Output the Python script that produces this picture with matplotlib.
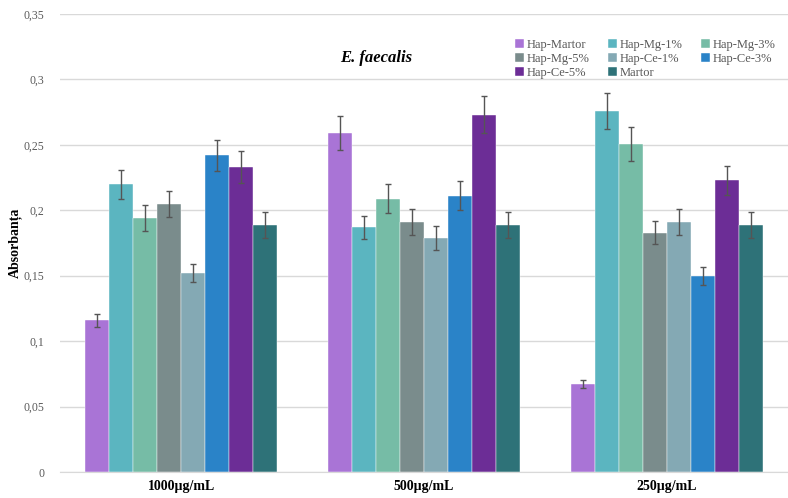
import numpy as np
import matplotlib.pyplot as plt

# absorbance per concentration, one list per sample
concentrations = ['1000µg/mL', '500µg/mL', '250µg/mL']
samples = ['Hap-Martor', 'Hap-Mg-1%', 'Hap-Mg-3%', 'Hap-Mg-5%',
           'Hap-Ce-1%', 'Hap-Ce-3%', 'Hap-Ce-5%', 'Martor']

hap_martor = [0.116, 0.259, 0.067]
hap_mg1 = [0.220, 0.187, 0.276]
hap_mg3 = [0.194, 0.209, 0.251]
hap_mg5 = [0.205, 0.191, 0.183]
hap_ce1 = [0.152, 0.179, 0.191]
hap_ce3 = [0.242, 0.211, 0.150]
hap_ce5 = [0.233, 0.273, 0.223]
martor = [0.189, 0.189, 0.189]

err_hap_martor = [0.005, 0.013, 0.003]
err_hap_mg1 = [0.011, 0.009, 0.014]
err_hap_mg3 = [0.010, 0.011, 0.013]
err_hap_mg5 = [0.010, 0.010, 0.009]
err_hap_ce1 = [0.007, 0.009, 0.010]
err_hap_ce3 = [0.012, 0.011, 0.007]
err_hap_ce5 = [0.012, 0.014, 0.011]
err_martor = [0.010, 0.010, 0.010]

values = [hap_martor, hap_mg1, hap_mg3, hap_mg5, hap_ce1, hap_ce3, hap_ce5, martor]
errors = [err_hap_martor, err_hap_mg1, err_hap_mg3, err_hap_mg5,
          err_hap_ce1, err_hap_ce3, err_hap_ce5, err_martor]
colors = ['#A974D6', '#5BB5C0', '#76BCA6', '#7A8C8C',
          '#84A9B4', '#2A83C8', '#6C2D96', '#2E7278']

serif = ['Liberation Serif', 'DejaVu Serif']

fig = plt.figure(figsize=(7.88, 4.98), dpi=100)
ax = fig.add_axes([60 / 788, 26 / 498, 728 / 788, 458 / 498])

x = np.arange(len(concentrations))
n = len(samples)
width = 0.79 / n
handles = []
for i in range(n):
    pos = x + (i - (n - 1) / 2) * width
    b = ax.bar(pos, values[i], width, color=colors[i], label=samples[i],
               edgecolor='white', linewidth=0.3, zorder=2)
    handles.append(b)
    ax.errorbar(pos, values[i], yerr=errors[i], fmt='none', ecolor='#555555',
                elinewidth=1, capsize=2.5, capthick=1, zorder=3)

ax.set_xlim(-0.5, len(concentrations) - 0.5)
ax.set_ylim(0, 0.35)
yt = np.arange(0, 0.351, 0.05)
ax.set_yticks(yt)
ax.set_yticklabels(['0' if v == 0 else ('%g' % round(v, 2)).replace('.', ',') for v in yt],
                   family=serif, fontsize=8.5, color='#595959')
ax.set_xticks(x)
ax.set_xticklabels(concentrations, family=serif, fontsize=10, fontweight='bold')
ax.tick_params(length=0, pad=6)
ax.tick_params(axis='y', pad=11)
ax.grid(axis='y', color='#D9D9D9', linewidth=1, zorder=0)
for s in ['top', 'right', 'left']:
    ax.spines[s].set_visible(False)
ax.spines['bottom'].set_color('#D9D9D9')

ax.set_ylabel('Absorbanța', family=serif, fontsize=10, fontweight='bold')
ax.yaxis.set_label_coords(-0.053, 0.5)
ax.text(0.434, 0.905, 'E. faecalis', transform=ax.transAxes, ha='center', va='center',
        family=serif, fontsize=12, fontweight='bold', style='italic')

# legend reads row by row, three per row
order = [0, 3, 6, 1, 4, 7, 2, 5]
ax.legend([handles[k] for k in order], [samples[k] for k in order],
          ncol=3, loc='upper left', bbox_to_anchor=(0.61, 0.97), frameon=False,
          prop={'family': serif, 'size': 9}, handlelength=0.7, handleheight=0.7,
          handletextpad=0.2, columnspacing=1.5, labelspacing=0.15, labelcolor='#595959')

fig.savefig('out.png', dpi=100)
